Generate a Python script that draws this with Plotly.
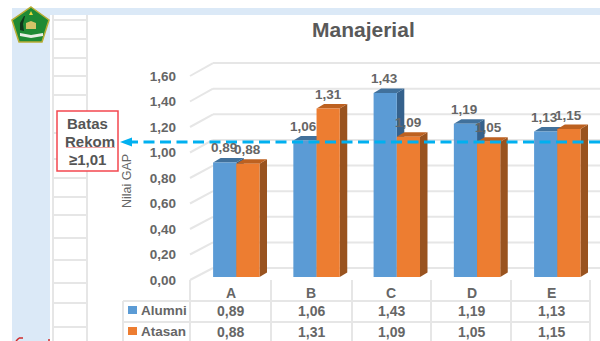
import plotly.graph_objects as go

# Survey results per competency group
categories = ["A", "B", "C", "D", "E"]
alumni = [0.89, 1.06, 1.43, 1.19, 1.13]
atasan = [0.88, 1.31, 1.09, 1.05, 1.15]
y_ticks = [0.0, 0.2, 0.4, 0.6, 0.8, 1.0, 1.2, 1.4, 1.6]
threshold_label = ["Batas", "Rekom", "≥1,01"]

W, H = 600, 341
BLUE, ORANGE = "#5b9bd5", "#ed7d31"
BLUE_TOP, BLUE_SIDE = "#41719c", "#35618c"
ORANGE_TOP, ORANGE_SIDE = "#bd6120", "#99531f"
GRID = "#e6e6e6"
TEXT = "#666666"
FONT = "Liberation Sans"

# Axis scales, in pixels
X0_PX, X_STEP = 236.3, 80.25
Y0_PX, Y_STEP = 277.0, 128.7
BAR_W = 23.2 / X_STEP
DX, DY = 7.5 / X_STEP, 4.5 / Y_STEP

x_range = [(0 - X0_PX) / X_STEP, (W - X0_PX) / X_STEP]
y_range = [(Y0_PX - H) / Y_STEP, Y0_PX / Y_STEP]
# Tick labels sit on the front edge of the floor, on a slightly different scale
y_tick_range = [(280 - H) / 127.5, 280 / 127.5]


def fmt(v):
    return f"{v:.2f}".replace(".", ",")


def px(x):
    return x / W


def py(y):
    return 1 - y / H


def line(x0, y0, x1, y1, color=GRID, width=2, layer="below", dash=None):
    return dict(type="line", xref="paper", yref="paper", x0=px(x0), y0=py(y0), x1=px(x1), y1=py(y1),
                layer=layer, line=dict(color=color, width=width, dash=dash))


def rect(x0, y0, x1, y1, fill, border=None, width=0, layer="below"):
    return dict(type="rect", xref="paper", yref="paper", x0=px(x0), y0=py(y0), x1=px(x1), y1=py(y1),
                layer=layer, fillcolor=fill, line=dict(color=border or fill, width=width))


def poly(points, fill, border=None, width=0, layer="below"):
    path = "M" + " L".join(f"{px(a):.4f},{py(b):.4f}" for a, b in points) + " Z"
    return dict(type="path", xref="paper", yref="paper", path=path, layer=layer,
                fillcolor=fill, line=dict(color=border or fill, width=width))


shapes = []

# Slide band on the left and across the top
shapes.append(rect(12, 15, 50, H, "#dbe9f7"))
shapes.append(rect(12, 8, W, 15, "#dbe9f7"))

# Worksheet cells behind the chart
for y in [20, 39, 58, 76, 95, 133, 159, 178, 197, 215, 238, 260, 283, 303, 327]:
    shapes.append(line(53, y, 87, y))
for x in [53, 87]:
    shapes.append(line(x, 15, x, H))

# Back wall and left wall gridlines
for v in y_ticks:
    back_y = 268 - 128.1 * v
    front_y = 280 - 127.5 * v
    shapes.append(line(213, back_y, W, back_y))
    shapes.append(line(190, front_y, 213, back_y))

# Data table rules
for y in [301, 322]:
    shapes.append(line(123, y, 590, y))
shapes.append(line(123, 301, 123, H))
for x in [190, 271, 352, 431, 511, 590]:
    shapes.append(line(x, 280, x, H))
shapes.append(rect(128, 306, 137, 314, BLUE))
shapes.append(rect(128, 327, 137, 335, ORANGE))

# Emblem
shapes.append(poly([(31, 7), (49, 20), (42, 42), (19, 42), (12, 20)], "#1f8a34", "#b9ad35", 1.5))
shapes.append(poly([(31, 11), (33, 15), (29, 15)], "#e8d93c"))
shapes.append(poly([(20, 23), (24, 16), (25, 16), (23, 24), (24, 31), (20, 30)], "#12381c"))
shapes.append(poly([(26, 23), (31, 21), (36, 23), (36, 29), (26, 29)], "#d5c468"))
shapes.append(poly([(20, 33), (31, 35), (43, 33), (43, 36), (31, 38), (20, 36)], "#e8eee4"))

# Red fragment at the foot of the slide
shapes.append(line(16, H, 19, 338, color="#cf2b2b", width=1.5))
shapes.append(line(19, 338, 23, 338, color="#cf2b2b", width=1.5))
shapes.append(line(49, H, 49, 339, color="#cf2b2b", width=1.5))

# Threshold marker and its callout
shapes.append(rect(57, 111, 118, 171, "#ffffff", "#f4474f", 1.5, layer="above"))
shapes.append(line(66, 147.5, 115, 147.5, color="#f3a5a5", width=1, layer="above"))
shapes.append(line(127, 142, W, 142, color="#00b0f0", width=3, layer="above", dash="11px,5.5px"))
shapes.append(poly([(120, 142), (132, 137.5), (132, 146.5)], "#00b0f0", layer="above"))

fig = go.Figure()


def depth_faces(xc, v, color_top, color_side):
    x_l, x_r = xc - BAR_W / 2, xc + BAR_W / 2
    fig.add_trace(go.Scatter(
        x=[x_r, x_r + DX, x_r + DX, x_r, x_r], y=[0, DY, v + DY, v, 0],
        mode="lines", fill="toself", fillcolor=color_side, line=dict(width=0),
        hoverinfo="skip", showlegend=False, xaxis="x", yaxis="y"))
    fig.add_trace(go.Scatter(
        x=[x_l, x_l + DX, x_r + DX, x_r, x_l], y=[v, v + DY, v + DY, v, v],
        mode="lines", fill="toself", fillcolor=color_top, line=dict(width=0),
        hoverinfo="skip", showlegend=False, xaxis="x", yaxis="y"))


# Depth faces live on the base axes so the bar fronts overlay them
for i in range(len(categories)):
    depth_faces(i - BAR_W / 2, alumni[i], BLUE_TOP, BLUE_SIDE)
for i in range(len(categories)):
    depth_faces(i + BAR_W / 2, atasan[i], ORANGE_TOP, ORANGE_SIDE)

positions = list(range(len(categories)))
fig.add_trace(go.Bar(x=positions, y=alumni, name="Alumni", marker=dict(color=BLUE, line=dict(width=0)),
                     width=BAR_W, offset=-BAR_W, xaxis="x2", yaxis="y2", showlegend=False))
fig.add_trace(go.Bar(x=positions, y=atasan, name="Atasan", marker=dict(color=ORANGE, line=dict(width=0)),
                     width=BAR_W, offset=0, xaxis="x2", yaxis="y2", showlegend=False))

# Carrier trace for the tick-label axis
fig.add_trace(go.Scatter(x=[positions[0]] * len(y_ticks), y=y_ticks, mode="markers",
                         marker=dict(opacity=0), hoverinfo="skip", showlegend=False,
                         xaxis="x", yaxis="y3"))

annotations = []


def note(text, x, y, size=13, bold=True, color=TEXT, **kw):
    label = f"<b>{text}</b>" if bold else text
    annotations.append(dict(text=label, x=x, y=y, showarrow=False,
                            font=dict(family=FONT, size=size, color=color), **kw))


def note_px(text, x, y, **kw):
    note(text, px(x), py(y), xref="paper", yref="paper", xanchor="center", yanchor="middle", **kw)


note_px("Manajerial", 363, 29, size=21, color="#595959")
note_px("Nilai GAP", 127, 181, size=12.5, bold=False, textangle=-90)
note_px("Alumni", 163.5, 310, size=13.5)
note_px("Atasan", 163.5, 331, size=13.5)
for text, y, xc in zip(threshold_label, [123, 141, 159], [87.5, 90, 87]):
    note_px(text, xc, y, size=15, color="#555555")

for i, cat in enumerate(categories):
    common = dict(xref="x", yref="y", xanchor="center", yanchor="middle")
    # Value labels above the bars
    note(fmt(alumni[i]), i - BAR_W / 2, alumni[i], size=13.5, yshift=14.5, xshift=-1, **common)
    note(fmt(atasan[i]), i + BAR_W / 2, atasan[i], size=13.5, yshift=14, **common)
    # Data table columns
    note_px(cat, X0_PX + X_STEP * i - 5.5, 293, size=14)
    note_px(fmt(alumni[i]), X0_PX + X_STEP * i - 5.5, 310.5, size=14)
    note_px(fmt(atasan[i]), X0_PX + X_STEP * i - 5.5, 331.5, size=14)

hidden = dict(visible=False, fixedrange=True)
fig.update_layout(
    width=W, height=H, autosize=False,
    margin=dict(l=0, r=0, t=0, b=0),
    paper_bgcolor="#ffffff", plot_bgcolor="rgba(0,0,0,0)",
    separators=", ",
    barmode="overlay",
    showlegend=False,
    shapes=shapes,
    annotations=annotations,
    xaxis=dict(domain=[0, 1], range=x_range, **hidden),
    yaxis=dict(domain=[0, 1], range=y_range, **hidden),
    xaxis2=dict(range=x_range, overlaying="x", **hidden),
    yaxis2=dict(range=y_range, overlaying="y", **hidden),
    yaxis3=dict(range=y_tick_range, overlaying="y", anchor="free", position=176 / W, side="left",
                tickmode="array", tickvals=y_ticks, tickformat=".2f",
                showgrid=False, zeroline=False, showline=False, ticks="", fixedrange=True,
                tickfont=dict(family=FONT, size=13.5, color=TEXT, weight=700)),
)

fig.write_html("out.html", config=dict(displayModeBar=False))
